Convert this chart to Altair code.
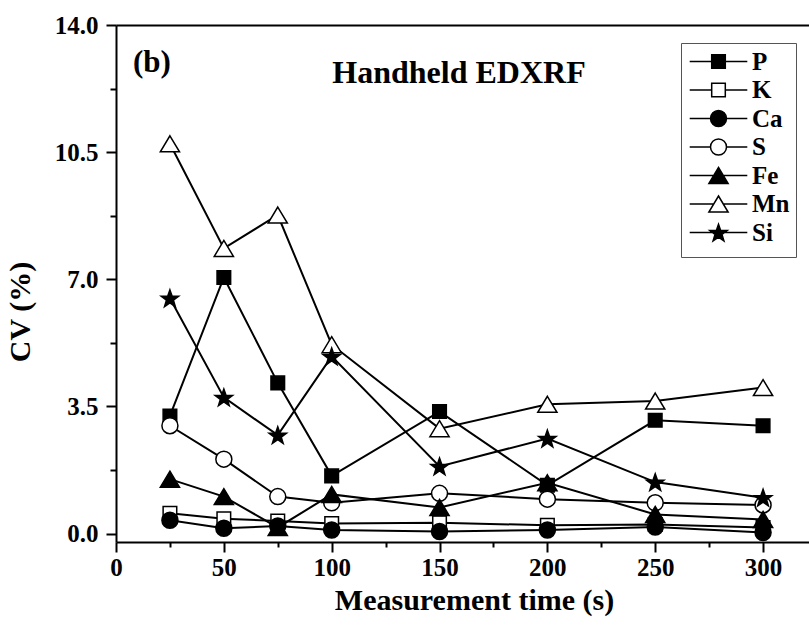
import math
import altair as alt
import pandas as pd

# ---- data ----
times = [25, 50, 75, 100, 150, 200, 250, 300]
elements = ["P", "K", "Ca", "S", "Fe", "Mn", "Si"]
cv_P = [3.24, 7.05, 4.15, 1.59, 3.36, 1.33, 3.12, 2.97]
cv_K = [0.56, 0.41, 0.35, 0.28, 0.30, 0.23, 0.25, 0.17]
cv_Ca = [0.37, 0.15, 0.21, 0.10, 0.06, 0.10, 0.18, 0.03]
cv_S = [2.97, 2.05, 1.02, 0.85, 1.11, 0.95, 0.85, 0.79]
cv_Fe = [1.50, 1.02, 0.17, 1.08, 0.72, 1.40, 0.53, 0.39]
cv_Mn = [10.73, 7.85, 8.77, 5.20, 2.89, 3.56, 3.65, 4.02]
cv_Si = [6.48, 3.75, 2.71, 4.88, 1.85, 2.62, 1.42, 0.99]
x_ticks = [0, 50, 100, 150, 200, 250, 300]
x_minor = [25, 75, 125, 175, 225, 275]
y_ticks = [0.0, 3.5, 7.0, 10.5, 14.0]
y_minor = [1.75, 5.25, 8.75, 12.25]

series = {"P": cv_P, "K": cv_K, "Ca": cv_Ca, "S": cv_S,
          "Fe": cv_Fe, "Mn": cv_Mn, "Si": cv_Si}
rows = []
for i, e in enumerate(elements):
    for t, v in zip(times, series[e]):
        rows.append({"time": t, "cv": v, "element": e, "order": i})
df = pd.DataFrame(rows)

# ---- marker shapes (custom paths in the [-1,1] box) ----
def star_path(R=1.15, r=0.46, dy=0.11):
    pts = []
    for k in range(10):
        a = math.radians(-90 + 36 * k)
        rad = R if k % 2 == 0 else r
        pts.append(f"{rad * math.cos(a):.4f},{rad * math.sin(a) + dy:.4f}")
    return "M" + "L".join(pts) + "Z"

SQ = "M-0.85,-0.85H0.85V0.85H-0.85Z"
CI = "M1,0A1,1,0,1,1,-1,0A1,1,0,1,1,1,0Z"
TR = "M0,-1L1.2,1H-1.2Z"
ST = star_path()
marker = {"P": SQ, "K": SQ, "Ca": CI, "S": CI, "Fe": TR, "Mn": TR, "Si": ST}
gap = {"P": 0.85, "K": 0.85, "Ca": 1.0, "S": 1.0, "Fe": 0.6, "Mn": 0.6, "Si": 0.5}
fills = {"P": "black", "K": "white", "Ca": "black", "S": "white",
         "Fe": "black", "Mn": "white", "Si": "black"}
legend_path = {e: f"M-3.6,0H-{gap[e]}M{gap[e]},0H3.6" + marker[e] for e in elements}

FONT = "Liberation Serif"
MSIZE = 256

legend = alt.Legend(
    orient="none", legendX=565, legendY=18, title=" ", titleOrient="bottom",
    titleFontSize=4, titlePadding=1,
    strokeColor="#555555", padding=6, fillColor="white",
    labelFont=FONT, labelFontWeight="bold", labelFontSize=25, labelColor="black",
    labelOffset=21, symbolOffset=19, rowPadding=2.5, symbolSize=MSIZE,
    symbolStrokeWidth=1.5, symbolStrokeColor="black",
)

xscale = alt.Scale(domain=[0, 321.3], nice=False, zero=False)
yscale = alt.Scale(domain=[-0.23, 14], nice=False, zero=False)
fill_scale = alt.Scale(domain=elements, range=[fills[e] for e in elements])

ax_x = alt.Axis(values=x_ticks, tickSize=10, tickWidth=2, domainWidth=2,
                labelFontSize=25, labelPadding=3, labelFlush=False, labelOverlap=False,
                title="Measurement time (s)", titleFontSize=30, titleX=358, titleY=67,
                titleBaseline="alphabetic", titleAlign="center", grid=False, orient="bottom")
ax_x_minor = alt.Axis(values=x_minor, tickSize=5, tickWidth=2, labels=False, domain=False,
                      title=None, grid=False, orient="bottom")
ax_x_top = alt.Axis(orient="top", ticks=False, labels=False, domain=True, domainWidth=2,
                    title=None, grid=False)
ax_y = alt.Axis(values=y_ticks, format=".1f", tickSize=10, tickWidth=2, domainWidth=2,
                labelFontSize=25, labelPadding=8, labelFlush=False, labelOverlap=False,
                title="CV (%)", titleFontSize=30, titleX=-87, titleY=286.5, titleAngle=270,
                titleBaseline="alphabetic", titleAlign="center", grid=False, orient="left")
ax_y_minor = alt.Axis(values=y_minor, tickSize=6, tickWidth=2, labels=False, domain=False,
                      title=None, grid=False, orient="left")

base = alt.Chart(df)

lines = base.mark_line(color="black", strokeWidth=2).encode(
    x=alt.X("time:Q", scale=xscale, axis=ax_x),
    y=alt.Y("cv:Q", scale=yscale, axis=ax_y),
    detail="element:N",
    order="time:Q",
)

points = base.mark_point(filled=True, size=MSIZE, stroke="black", strokeWidth=1.5,
                         opacity=1).encode(
    x=alt.X("time:Q", scale=xscale, axis=ax_x_minor),
    y=alt.Y("cv:Q", scale=yscale, axis=ax_y_minor),
    shape=alt.Shape("element:N", scale=alt.Scale(domain=elements,
                    range=[marker[e] for e in elements]), legend=None),
    fill=alt.Fill("element:N", scale=fill_scale, legend=None),
)

# legend-only layer: no rows survive the filter, the legend comes from the explicit domains
legend_layer = base.transform_filter("datum.cv < -100").mark_point(
    filled=True, size=MSIZE, strokeWidth=1.5, opacity=1).encode(
    x=alt.X("time:Q", scale=xscale, axis=None),
    y=alt.Y("cv:Q", scale=yscale, axis=None),
    shape=alt.Shape("element:N", scale=alt.Scale(domain=elements,
                    range=[legend_path[e] for e in elements]), legend=legend),
    fill=alt.Fill("element:N", scale=alt.Scale(domain=elements,
                  range=[fills[e] for e in elements]), legend=legend),
    stroke=alt.Stroke("element:N", scale=alt.Scale(domain=elements,
                      range=["black"] * len(elements)), legend=legend),
)

top = base.mark_point(opacity=0).encode(
    x=alt.X("time:Q", scale=xscale, axis=ax_x_top),
    y=alt.Y("cv:Q", scale=yscale, axis=None),
)

tag = alt.Chart(pd.DataFrame({"t": ["(b)"]})).mark_text(
    font=FONT, fontWeight="bold", fontSize=31, align="left", baseline="alphabetic",
    color="black").encode(text="t:N", x=alt.value(17), y=alt.value(47))

head = alt.Chart(pd.DataFrame({"t": ["Handheld EDXRF"]})).mark_text(
    font=FONT, fontWeight="bold", fontSize=32, align="center", baseline="alphabetic",
    color="black").encode(text="t:N", x=alt.value(343), y=alt.value(58))

chart = alt.layer(lines, points, legend_layer, top, tag, head).resolve_axis(
    x="independent", y="independent"
).resolve_scale(shape="independent", fill="independent", stroke="independent").properties(
    width=693, height=517,
    padding={"left": 116, "top": 25, "right": 0, "bottom": 91},
    autosize=alt.AutoSizeParams(type="none"),
).configure_view(stroke=None).configure_axis(
    labelFont=FONT, titleFont=FONT, labelFontWeight="bold", titleFontWeight="bold",
    labelColor="black", titleColor="black", tickColor="black", domainColor="black",
)

chart.save("out.html", embed_options={"renderer": "svg", "actions": False})
